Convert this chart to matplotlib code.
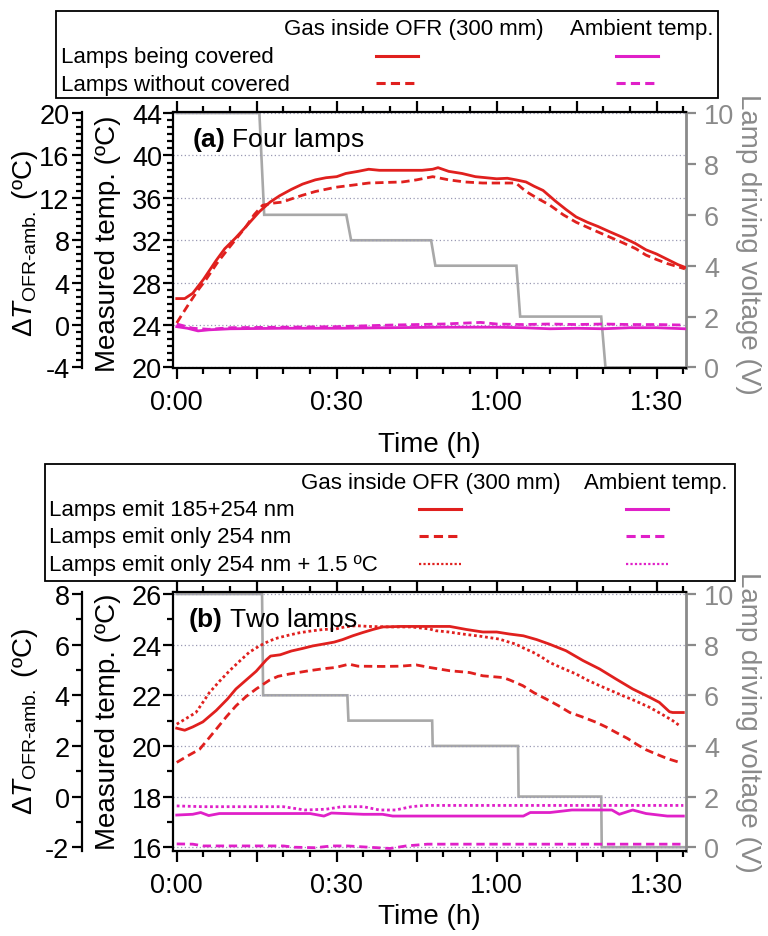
import matplotlib
matplotlib.use('Agg')
import matplotlib.pyplot as plt
from matplotlib.ticker import MultipleLocator, FuncFormatter
from matplotlib.lines import Line2D
from matplotlib.patches import Rectangle

plt.rcParams['font.family'] = ['Liberation Sans', 'DejaVu Sans']
plt.rcParams['mathtext.fontset'] = 'custom'
plt.rcParams['mathtext.rm'] = 'Liberation Sans'
plt.rcParams['mathtext.it'] = 'Liberation Sans:italic'
plt.rcParams['mathtext.bf'] = 'Liberation Sans:bold'
plt.rcParams['axes.unicode_minus'] = False

# ---------------- data (time in minutes) ----------------
# Panel (a) four lamps
a_cov_t = [0, 1.5, 3, 5, 7.4, 9, 11, 13, 15.5, 17.5, 19.3, 21.5, 23.6, 26, 28, 30, 31.7, 34, 36, 38, 42, 46, 48, 49, 51,
           53.5, 56, 58, 60, 62, 63.6, 65.5, 67, 68.7, 71, 73, 74.9, 77, 79, 81.2, 83.5, 86, 88, 90, 92, 94, 95.3]
a_cov_T = [26.5, 26.5, 27.0, 28.3, 30.1, 31.2, 32.2, 33.3, 34.7, 35.6, 36.2, 36.8, 37.3, 37.7, 37.9, 38.0, 38.3, 38.5,
           38.7, 38.6, 38.6, 38.6, 38.7, 38.85, 38.5, 38.3, 38.0, 37.9, 37.8, 37.85, 37.7, 37.5, 37.1, 36.7, 35.7, 34.9,
           34.2, 33.7, 33.3, 32.8, 32.3, 31.7, 31.1, 30.7, 30.2, 29.7, 29.45]
a_unc_t = [0, 1, 2.4, 4, 5.5, 7.5, 9.5, 11.1, 13, 14.5, 16.1, 18, 19.8, 21.5, 23.6, 26, 29.8, 33, 36, 39, 42.3, 45, 48,
           51, 54, 57.4, 60, 63.6, 65.5, 67.5, 70, 72.5, 74.9, 78, 81.2, 83.5, 86.1, 88, 89.9, 92, 95.3]
a_unc_T = [24.2, 25.0, 26.1, 27.3, 28.3, 29.8, 31.1, 32.1, 33.3, 34.4, 35.3, 35.5, 35.6, 35.9, 36.25, 36.6, 37.0, 37.2,
           37.4, 37.45, 37.5, 37.7, 38.0, 37.7, 37.5, 37.4, 37.4, 37.4, 36.6, 36.0, 35.3, 34.4, 33.7, 33.0, 32.3, 31.8,
           31.2, 30.6, 30.2, 29.8, 29.3]
a_amb_cov_t = [0, 2, 4, 6, 10, 20, 30, 40, 50, 60, 65, 70, 75, 80, 85, 90, 95.3]
a_amb_cov_T = [23.85, 23.7, 23.45, 23.55, 23.65, 23.7, 23.7, 23.75, 23.8, 23.8, 23.75, 23.65, 23.7, 23.65, 23.75,
               23.75, 23.65]
a_amb_unc_t = [0, 3, 6, 10, 20, 30, 40, 50, 57, 60, 65, 70, 75, 80, 85, 90, 95.3]
a_amb_unc_T = [24.1, 23.7, 23.6, 23.75, 23.8, 23.85, 24.0, 24.1, 24.25, 24.1, 24.05, 24.1, 24.05, 24.1, 24.05, 24.05,
               24.0]
a_volt_t = [0, 15.5, 16.4, 31.8, 32.7, 47.7, 48.5, 63.7, 64.4, 79.6, 80.4, 95.5]
a_volt_V = [10, 10, 6, 6, 5, 5, 4, 4, 2, 2, 0, 0]

# Panel (b) two lamps
b_185_t = [0, 1.5, 3, 4.9, 7.4, 9.5, 11.1, 13, 14.9, 16.8, 17.6, 19.4, 21.5, 23.6, 25.5, 27.4, 29.5, 31.1, 33, 34.9,
           36.8, 38.6, 42, 46, 51.2, 54.3, 57.4, 60, 62.4, 65, 67.5, 69.9, 73, 76.2, 79.3, 82.4, 85.5, 88.7, 90.5, 92.4,
           93, 95]
b_185_T = [20.7, 20.62, 20.75, 20.95, 21.4, 21.85, 22.25, 22.6, 22.95, 23.4, 23.55, 23.6, 23.75, 23.85, 23.95, 24.02,
           24.1, 24.2, 24.35, 24.48, 24.6, 24.7, 24.72, 24.72, 24.72, 24.6, 24.5, 24.5, 24.42, 24.35, 24.2, 24.02, 23.76,
           23.37, 23.04, 22.64, 22.25, 21.92, 21.72, 21.35, 21.32, 21.32]
b_254_t = [0, 2, 4.3, 6, 7.4, 9.3, 11.1, 13, 14.9, 17.4, 19, 21.1, 24.8, 27.5, 29.8, 32.3, 34, 38.6, 42, 44.9, 47.4,
           51.2, 54.9, 57.4, 61.2, 62.5, 64.9, 67, 69.3, 71.5, 73.7, 76, 78.7, 80.5, 82.4, 84.5, 86.2, 88, 89.9, 92, 94.3]
b_254_T = [19.35, 19.6, 19.87, 20.3, 20.66, 21.15, 21.58, 21.95, 22.25, 22.6, 22.75, 22.84, 22.97, 23.05, 23.1, 23.23,
           23.15, 23.14, 23.15, 23.2, 23.1, 22.97, 22.9, 22.77, 22.7, 22.6, 22.38, 22.1, 21.85, 21.6, 21.32, 21.15,
           20.93, 20.75, 20.53, 20.3, 20.07, 19.85, 19.68, 19.5, 19.35]
b_254p_t = [0, 1.5, 3.6, 5, 6.1, 8, 9.9, 11.8, 13.6, 15.5, 17.4, 19, 21.1, 23, 25.5, 27.5, 29.8, 31.5, 33.6, 36, 40,
            44, 47.4, 48.6, 51, 53.6, 57, 60.5, 62, 63.6, 65, 66.8, 68.5, 69.9, 72, 74.9, 77, 79.3, 81.5, 83.7, 86,
            88.7, 91, 93, 94.3]
b_254p_T = [20.86, 21.05, 21.32, 21.75, 22.1, 22.55, 22.97, 23.35, 23.7, 23.95, 24.15, 24.27, 24.38, 24.47, 24.55,
            24.6, 24.62, 24.7, 24.75, 24.72, 24.7, 24.7, 24.62, 24.55, 24.5, 24.42, 24.33, 24.22, 24.12, 24.02, 23.87,
            23.7, 23.5, 23.3, 23.1, 22.84, 22.6, 22.38, 22.18, 21.98, 21.78, 21.52, 21.25, 21.0, 20.8]
b_amb_185_t = [0, 3, 4.5, 6, 8, 15, 25, 27.6, 29, 35, 38.6, 40.5, 50, 60, 65, 66.3, 70, 74.1, 78, 81.6, 83, 85.5, 88,
               92, 95]
b_amb_185_T = [17.27, 17.3, 17.37, 17.25, 17.33, 17.33, 17.33, 17.23, 17.35, 17.3, 17.3, 17.23, 17.23, 17.23, 17.23,
               17.37, 17.37, 17.47, 17.47, 17.47, 17.3, 17.47, 17.33, 17.23, 17.23]
b_amb_254_t = [0, 3, 5, 10, 15, 20, 22, 26, 29, 32, 36, 40, 43, 47, 60, 80, 95]
b_amb_254_T = [16.13, 16.12, 16.05, 16.05, 16.05, 16.05, 16.0, 15.98, 16.05, 16.05, 16.0, 15.95, 16.05, 16.12, 16.12,
               16.12, 16.12]
b_amb_254p_t = [0, 5, 10, 20, 24, 28, 31, 35, 38, 41, 44, 46.5, 60, 80, 95]
b_amb_254p_T = [17.63, 17.6, 17.6, 17.6, 17.47, 17.5, 17.6, 17.6, 17.47, 17.47, 17.6, 17.65, 17.65, 17.65, 17.65]
b_volt_t = [0, 16.0, 16.2, 32.0, 32.2, 47.9, 48.0, 64.0, 64.1, 79.6, 79.7, 95.5]
b_volt_V = [10, 10, 6, 6, 5, 5, 4, 4, 2, 2, 0, 0]

legend_a_rows = ['Lamps being covered', 'Lamps without covered']
legend_b_rows = ['Lamps emit 185+254 nm', 'Lamps emit only 254 nm', 'Lamps emit only 254 nm + 1.5 ºC']
col_headers = ['Gas inside OFR (300 mm)', 'Ambient temp.']

# ---------------- styling ----------------
W, H = 768, 937
RED = '#e0201e'
MAG = '#e020c8'
GRAY_LINE = '#a8a8a8'
GRAY_AX = '#8a8a8a'
SOLID = '-'
DASH = (0, (3.0, 1.7))
DOT = (0, (1.0, 1.0))
TICK_FS = 19.5
LAB_FS = 20
LEG_FS = 16

fig = plt.figure(figsize=(W / 100, H / 100), dpi=100)


def frect(l, t, r, b):
    return [l / W, 1 - b / H, (r - l) / W, (b - t) / H]


def fmt_time(m, pos):
    m = round(m)
    if m % 30 != 0:
        return ''
    return f'{m // 60}:{m % 60:02d}'


def panel(box, ylim, major, minor, dT_off, dT_major, dT_minor, vlim, series, volt_t, volt_v, title,
          title_xy, lab_y, xlab_y):
    axv = fig.add_axes(frect(*box))
    ax = fig.add_axes(frect(*box))
    ax.patch.set_visible(False)
    xlim = (-0.7, 95.5)
    # voltage axis (under)
    axv.plot(volt_t, volt_v, color=GRAY_LINE, lw=1.9, solid_joinstyle='miter')
    axv.set_xlim(*xlim)
    axv.set_ylim(*vlim)
    for s in ['left', 'top', 'bottom']:
        axv.spines[s].set_visible(False)
    axv.spines['right'].set_color(GRAY_AX)
    axv.spines['right'].set_linewidth(2.0)
    axv.yaxis.tick_right()
    axv.set_xticks([])
    axv.yaxis.set_major_locator(MultipleLocator(2))
    axv.tick_params(axis='y', direction='out', length=7, width=1.6, colors=GRAY_AX, labelsize=TICK_FS, pad=6)
    for lab in axv.get_yticklabels():
        lab.set_color(GRAY_AX)

    # temperature axis
    for t, T, c, ls, lw in series:
        ax.plot(t, T, color=c, ls=ls, lw=lw)
    ax.set_xlim(*xlim)
    ax.set_ylim(*ylim)
    ax.spines['right'].set_visible(False)
    for s in ['left', 'top', 'bottom']:
        ax.spines[s].set_linewidth(1.6)
    ax.xaxis.set_major_locator(MultipleLocator(15))
    ax.xaxis.set_minor_locator(MultipleLocator(5))
    ax.xaxis.set_major_formatter(FuncFormatter(fmt_time))
    ax.tick_params(axis='x', which='both', direction='out', top=True, bottom=True, width=1.6,
                   labelsize=TICK_FS, pad=7)
    ax.tick_params(axis='x', which='major', length=8)
    ax.tick_params(axis='x', which='minor', length=4.5)
    ax.yaxis.set_major_locator(MultipleLocator(major))
    ax.yaxis.set_minor_locator(MultipleLocator(minor))
    ax.tick_params(axis='y', which='both', direction='out', width=1.6, labelsize=TICK_FS, pad=1)
    ax.tick_params(axis='y', which='major', length=7)
    ax.tick_params(axis='y', which='minor', length=4)
    ax.yaxis.grid(True, which='major', color='#9a9ab4', lw=0.9, ls=(0, (1, 2)))
    ax.set_axisbelow(True)

    # delta T axis (outer left)
    sec = ax.secondary_yaxis(-91 / (box[2] - box[0]),
                             functions=(lambda T: T - dT_off, lambda d: d + dT_off))
    sec.spines['left'].set_linewidth(1.6)
    sec.yaxis.set_major_locator(MultipleLocator(dT_major))
    sec.yaxis.set_minor_locator(MultipleLocator(dT_minor))
    sec.tick_params(axis='y', which='both', direction='out', width=1.6, labelsize=TICK_FS, pad=2)
    sec.tick_params(axis='y', which='major', length=7)
    sec.tick_params(axis='y', which='minor', length=4)

    # labels
    fig.text(25 / W, 1 - lab_y / H, r'$\mathit{\Delta T}_{\mathregular{OFR\text{-}amb.}}$ (ºC)', rotation=90,
             ha='center', va='center', fontsize=LAB_FS)
    fig.text(108 / W, 1 - lab_y / H, 'Measured temp. (ºC)', rotation=90, ha='center', va='center',
             fontsize=LAB_FS)
    fig.text(748 / W, 1 - lab_y / H, 'Lamp driving voltage (V)', rotation=270, ha='center', va='center',
             fontsize=LAB_FS, color=GRAY_AX)
    fig.text(429 / W, 1 - xlab_y / H, 'Time (h)', ha='center', va='center', fontsize=LAB_FS)
    fig.text(title_xy[0] / W, 1 - title_xy[1] / H, title, ha='left', va='center', fontsize=19)
    return ax


def legend(box, header_y, gas_right, amb_right, row_x, row_ys, rows, red_x, mag_x, styles):
    l, t, r, b = box
    fig.add_artist(Rectangle((l / W, 1 - b / H), (r - l) / W, (b - t) / H, transform=fig.transFigure,
                             fill=False, ec='black', lw=1.3))
    fig.text(gas_right / W, 1 - header_y / H, col_headers[0], ha='right', va='center', fontsize=LEG_FS)
    fig.text(amb_right / W, 1 - header_y / H, col_headers[1], ha='right', va='center', fontsize=LEG_FS)
    for y, txt, (ls, lw) in zip(row_ys, rows, styles):
        fig.text(row_x / W, 1 - (y + 1) / H, txt, ha='left', va='center', fontsize=LEG_FS)
        for xs, c in ((red_x, RED), (mag_x, MAG)):
            fig.add_artist(Line2D([xs[0] / W, xs[1] / W], [1 - y / H, 1 - y / H], transform=fig.transFigure,
                                  color=c, ls=ls, lw=lw))


# Panel (a)
panel((173, 113, 686, 369), (19.95, 44.1), 4, 4 / 6, 24, 4, 4 / 6, ((19.95 - 20) / 2.4, (44.1 - 20) / 2.4),
      [(a_amb_cov_t, a_amb_cov_T, MAG, SOLID, 2.0),
       (a_amb_unc_t, a_amb_unc_T, MAG, DASH, 2.0),
       (a_unc_t, a_unc_T, RED, DASH, 2.0),
       (a_cov_t, a_cov_T, RED, SOLID, 2.0)],
      a_volt_t, a_volt_V, r'$\mathbf{(a)}$ Four lamps', (192, 140), 244, 445)

# Panel (b)
panel((173, 593, 686, 852), (15.85, 26.08), 2, 1, 18, 2, 1, (15.85 - 16, 26.08 - 16),
      [(b_amb_185_t, b_amb_185_T, MAG, SOLID, 2.0),
       (b_amb_254_t, b_amb_254_T, MAG, DASH, 2.0),
       (b_amb_254p_t, b_amb_254p_T, MAG, DOT, 2.0),
       (b_254_t, b_254_T, RED, DASH, 2.0),
       (b_254p_t, b_254p_T, RED, DOT, 2.0),
       (b_185_t, b_185_T, RED, SOLID, 2.0)],
      b_volt_t, b_volt_V, r'$\mathbf{(b)}$ Two lamps', (188, 620), 722, 917)

legend((56, 12, 718, 99), 30, 544, 713, 61, [57, 84], legend_a_rows, (376, 418), (616, 658),
       [(SOLID, 2.2), (DASH, 2.2)])
legend((45, 465, 735, 582), 484, 561, 727, 49, [510, 537, 565], legend_b_rows, (419, 461), (626, 668),
       [(SOLID, 2.2), (DASH, 2.2), (DOT, 1.6)])

fig.savefig('out.png', dpi=100)
